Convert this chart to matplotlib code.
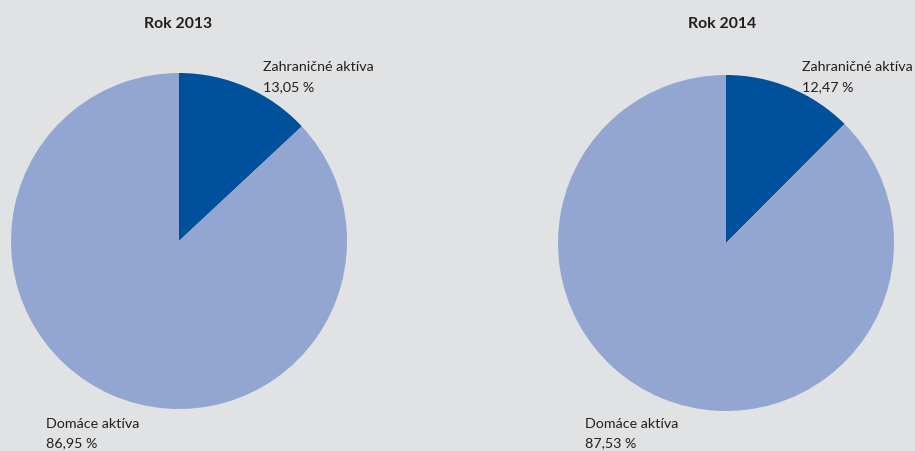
import matplotlib
matplotlib.use("Agg")
import matplotlib.pyplot as plt

years = ["Rok 2013", "Rok 2014"]
categories = ["Zahraničné aktíva", "Domáce aktíva"]
shares_2013 = [13.05, 86.95]
shares_2014 = [12.47, 87.53]
colors = ["#00509b", "#93a6d1"]
bg = "#e1e2e4"

W, H = 915, 452
fig = plt.figure(figsize=(W / 100, H / 100), dpi=100, facecolor=bg)
ax = fig.add_axes([0, 0, 1, 1])
ax.set_facecolor(bg)

plt.rcParams["font.family"] = ["Lato", "DejaVu Sans"]

layout = [
    # center x, center y (from top), title x, label x positions
    dict(cx=179, cy=242, tx=178, fx=263, dx=46),
    dict(cx=726, cy=244, tx=722, fx=802, dx=585),
]

def fmt(v):
    return f"{v:.2f}".replace(".", ",") + " %"

for year, shares, lay in zip(years, [shares_2013, shares_2014], layout):
    ax.pie(shares, colors=colors, startangle=90, counterclock=False,
           center=(lay["cx"], H - lay["cy"]), radius=168,
           wedgeprops=dict(linewidth=0), frame=True)
    ax.text(lay["tx"], H - 24, year, ha="center", va="center",
            fontsize=11.3, fontweight="bold", color="#231f20")
    ax.text(lay["fx"], H - 67, categories[0], ha="left", va="center",
            fontsize=10.3, color="#231f20")
    ax.text(lay["fx"], H - 87, fmt(shares[0]), ha="left", va="center",
            fontsize=10.3, color="#231f20")
    ax.text(lay["dx"], H - 424, categories[1], ha="left", va="center",
            fontsize=10.3, color="#231f20")
    ax.text(lay["dx"], H - 443, fmt(shares[1]), ha="left", va="center",
            fontsize=10.3, color="#231f20")

ax.set_xlim(0, W)
ax.set_ylim(0, H)
ax.set_aspect("equal")
ax.axis("off")
fig.savefig("out.png", dpi=100, facecolor=bg)
